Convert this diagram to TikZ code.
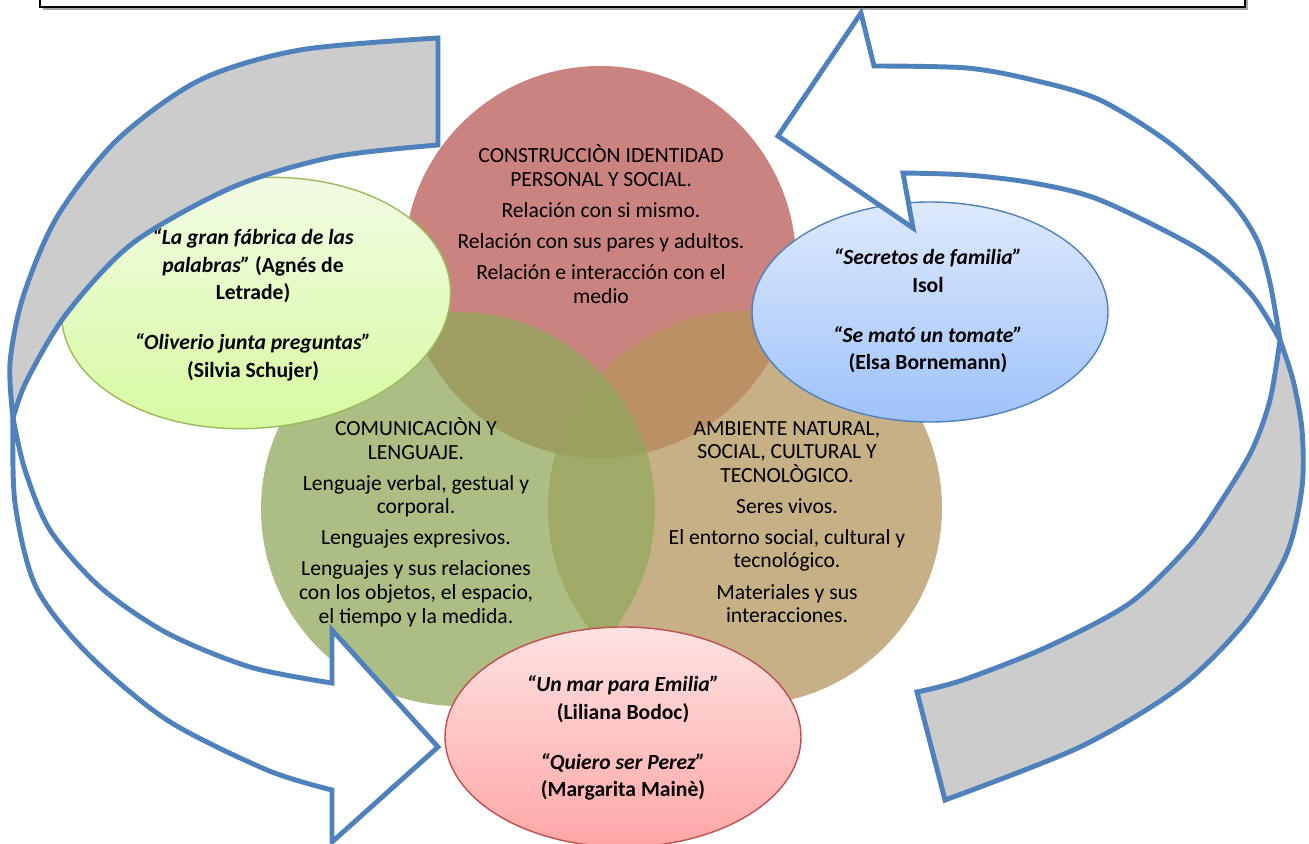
\documentclass[tikz,border=0pt]{standalone}
\usepackage{fontspec}
\setmainfont{Carlito}
\definecolor{arrowblue}{RGB}{79,129,189}
\definecolor{bandgray}{RGB}{204,204,204}
\definecolor{redc}{RGB}{186,90,84}
\definecolor{greenc}{RGB}{144,168,91}
\definecolor{tanc}{RGB}{180,150,92}

\begin{document}
\begin{tikzpicture}[x=0.02cm, y=-0.02cm,
    band/.style={draw=arrowblue, line width=2.8pt, line join=miter, fill=bandgray},
    body/.style={draw=arrowblue, line width=2.8pt, line join=miter, fill=white},
    venn/.style={fill opacity=0.75},
    circtext/.style={align=center, inner sep=0pt, font=\fontsize{12.3pt}{13.4pt}\selectfont},
    elltext/.style={align=center, inner sep=0pt, font=\fontsize{12.3pt}{15.6pt}\selectfont\bfseries}]
    \useasboundingbox (0,0) rectangle (1309,844);
    % title box
    \fill[gray!70] (43,-20) rectangle (1248,10);
    \filldraw[draw=black, fill=white, line width=1.2pt] (40,-20) rectangle (1245,7);
    %
    \fill[venn, redc] (600,262) circle [radius=196];
    \fill[venn, tanc] (745,508) circle [radius=197];
    \fill[venn, greenc] (458,509) circle [radius=197];
    \node[circtext] (identidad) at (601,224) {CONSTRUCCIÒN IDENTIDAD\\PERSONAL Y SOCIAL.\\[4.3pt]
        Relación con si mismo.\\[4.3pt]
        Relación con sus pares y adultos.\\[4.3pt]
        Relación e interacción con el\\medio};
    \node[circtext] (comunicacion) at (416,522) {COMUNICACIÒN Y\\LENGUAJE.\\[4.3pt]
        Lenguaje verbal, gestual y\\corporal.\\[4.3pt]
        Lenguajes expresivos.\\[4.3pt]
        Lenguajes y sus relaciones\\con los objetos, el espacio,\\el tiempo y la medida.};
    \node[circtext] (ambiente) at (787,522) {AMBIENTE NATURAL,\\SOCIAL, CULTURAL Y\\TECNOLÒGICO.\\[4.3pt]
        Seres vivos.\\[4.3pt]
        El entorno social, cultural y\\tecnológico.\\[4.3pt]
        Materiales y sus\\interacciones.};
    %
    \shade[top color={rgb,255:red,242;green,251;blue,228}, bottom color={rgb,255:red,214;green,250;blue,158},
        draw={rgb,255:red,155;green,187;blue,89}, line width=0.8pt, rotate around={5:(256,303)}]
        (256,303) ellipse [x radius=195, y radius=125];
    \shade[top color={rgb,255:red,222;green,234;blue,252}, bottom color={rgb,255:red,158;green,194;blue,250},
        draw=arrowblue, line width=0.8pt] (930,312) ellipse [x radius=178, y radius=110];
    \shade[top color={rgb,255:red,255;green,226;blue,226}, bottom color={rgb,255:red,255;green,166;blue,166},
        draw={rgb,255:red,192;green,80;blue,77}, line width=0.8pt] (623,737) ellipse [x radius=178, y radius=110];
    \node[elltext] (libros1) at (253,305) {\textit{“La gran fábrica de las}\\\textit{palabras”} (Agnés de\\Letrade)\\[13pt]
        \textit{“Oliverio junta preguntas”}\\(Silvia Schujer)};
    \node[elltext] (libros2) at (928,311) {\textit{“Secretos de familia”}\\Isol\\[13pt]
        \textit{“Se mató un tomate”}\\(Elsa Bornemann)};
    \node[elltext] (libros3) at (623,738) {\textit{“Un mar para Emilia”}\\(Liliana Bodoc)\\[13pt]
        \textit{“Quiero ser Perez”}\\(Margarita Mainè)};
    %
    % left arrow
    \filldraw[band] plot[smooth] coordinates {(438,38) (300,50) (200,80) (117,140) (57,217) (23,297) (10,363) (13,418)}
        -- plot[smooth] coordinates {(13,418) (27,380) (67,313) (133,243) (233,187) (333,157) (438,145)} -- cycle;
    \filldraw[body] plot[smooth] coordinates {(13,418) (15,503) (36,587) (87,653) (167,720) (267,770) (332,790)}
        -- (332,842) -- (438,747) -- (332,630) -- (332,683)
        -- plot[smooth] coordinates {(332,683) (250,667) (167,633) (100,587) (50,530) (25,470) (13,418)} -- cycle;
    % right arrow
    \filldraw[band] plot[smooth] coordinates {(1280,340) (1293,380) (1302,430) (1302,487) (1287,553) (1247,620) (1180,687) (1080,747) (945,800)}
        -- (917,692)
        -- plot[smooth] coordinates {(917,692) (963,680) (1047,647) (1130,603) (1190,545) (1222,500) (1252,450) (1270,400) (1280,340)} -- cycle;
    \filldraw[body] plot[smooth] coordinates {(1280,340) (1270,283) (1257,240) (1230,200) (1172,145) (1100,100) (1033,80) (967,68) (874,66)}
        -- (861,13) -- (778,136) -- (913,228) -- (903,173)
        -- plot[smooth] coordinates {(903,173) (967,175) (1033,183) (1100,200) (1200,250) (1250,293) (1280,340)} -- cycle;
\end{tikzpicture}
\end{document}
